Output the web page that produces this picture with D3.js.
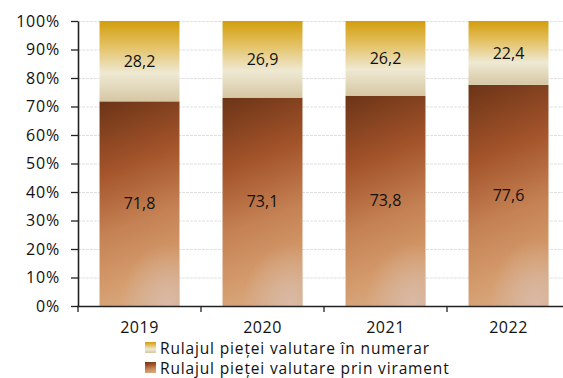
<!DOCTYPE html>
<html>
<head>
<meta charset="utf-8">
<script src="https://cdn.jsdelivr.net/npm/d3@7/dist/d3.min.js"></script>
<style>
  html, body { margin: 0; padding: 0; background: #fff; }
  svg { display: block; font-family: "Open Sans", "Noto Sans", sans-serif; }
</style>
</head>
<body>
<svg id="chart" width="563" height="378"></svg>
<script>
// Market turnover structure, percent of total
const years = ["2019", "2020", "2021", "2022"];
const viramente = [71.8, 73.1, 73.8, 77.6];
const numerar = [28.2, 26.9, 26.2, 22.4];
const yTicks = [0, 10, 20, 30, 40, 50, 60, 70, 80, 90, 100];
const seriesNames = ["Rulajul pieței valutare în numerar", "Rulajul pieței valutare prin virament"];

const svg = d3.select("#chart");
const x = d3.scaleBand().domain(years).range([78, 570]).paddingInner(0.35).paddingOuter(0.175);
const y = d3.scaleLinear().domain([0, 100]).range([306, 21]);

const defs = svg.append("defs");
// bottom series gradient: dark brown at top, warm tan below
const gV = defs.append("linearGradient").attr("id", "gradV").attr("x1", 0).attr("y1", 0).attr("x2", 0.15).attr("y2", 1);
[[0, "#6b3417"], [0.35, "#a4542a"], [0.65, "#c58254"], [0.9, "#d49b6c"], [1, "#d6a47a"]]
  .forEach(([o, c]) => gV.append("stop").attr("offset", o).attr("stop-color", c));
const rV = defs.append("radialGradient").attr("id", "glowV").attr("cx", 0.85).attr("cy", 1).attr("r", 0.6)
  .attr("gradientTransform", "scale(1,0.5) translate(0,1)");
rV.append("stop").attr("offset", 0).attr("stop-color", "#d9bcaa").attr("stop-opacity", 0.95);
rV.append("stop").attr("offset", 1).attr("stop-color", "#d9bcaa").attr("stop-opacity", 0);
// top series gradient: gold to cream
const gN = defs.append("linearGradient").attr("id", "gradN").attr("x1", 0).attr("y1", 0).attr("x2", 0).attr("y2", 1);
[[0, "#d39e0c"], [0.3, "#e3c060"], [0.65, "#efe9d3"], [1, "#d6c7a4"]]
  .forEach(([o, c]) => gN.append("stop").attr("offset", o).attr("stop-color", c));

// gridlines
svg.append("g").selectAll("line").data(yTicks.slice(1)).join("line")
  .attr("x1", 78).attr("x2", 563).attr("y1", d => y(d) + 0.5).attr("y2", d => y(d) + 0.5)
  .attr("stroke", "#e0e0e0").attr("stroke-width", 1).attr("stroke-dasharray", "3,1");

// bars
const bars = svg.append("g");
years.forEach((yr, i) => {
  const bx = x(yr), bw = x.bandwidth();
  bars.append("rect").attr("x", bx).attr("width", bw)
    .attr("y", y(viramente[i])).attr("height", y(0) - y(viramente[i])).attr("fill", "url(#gradV)");
  bars.append("rect").attr("x", bx).attr("width", bw)
    .attr("y", y(viramente[i])).attr("height", y(0) - y(viramente[i])).attr("fill", "url(#glowV)");
  bars.append("rect").attr("x", bx).attr("width", bw)
    .attr("y", y(100)).attr("height", y(viramente[i]) - y(100)).attr("fill", "url(#gradN)");
});

const fmt = v => v.toFixed(1).replace(".", ",");
const labels = svg.append("g").attr("font-size", 16).attr("fill", "#111").attr("text-anchor", "middle");
years.forEach((yr, i) => {
  const cx = x(yr) + x.bandwidth() / 2;
  labels.append("text").attr("x", cx).attr("y", y(viramente[i] / 2)).attr("dy", "0.35em").text(fmt(viramente[i]));
  labels.append("text").attr("x", cx).attr("y", y(viramente[i] + numerar[i] / 2)).attr("dy", "0.35em").text(fmt(numerar[i]));
});

// y axis
const yAxis = svg.append("g").attr("transform", "translate(78,0)")
  .call(d3.axisLeft(y).tickValues(yTicks).tickFormat(d => d + "%").tickSize(7).tickSizeOuter(0));
yAxis.select(".domain").attr("stroke", "#222").attr("stroke-width", 1.6);
yAxis.selectAll(".tick line").attr("stroke", "#222").attr("stroke-width", 1.3);
yAxis.selectAll(".tick text").attr("font-size", 16).attr("fill", "#111").attr("x", -18)
  .attr("letter-spacing", "0.8px").attr("font-family", "\"Open Sans\", sans-serif");

// x axis with ticks between categories
const xg = svg.append("g").attr("transform", "translate(0,306)");
xg.append("line").attr("x1", 77).attr("x2", 563).attr("y1", 0.5).attr("y2", 0.5).attr("stroke", "#222").attr("stroke-width", 1.6);
const bounds = years.slice(1).map(yr => x(yr) - x.step() * x.paddingInner() / 2);
xg.selectAll(".sep").data([78].concat(bounds)).join("line")
  .attr("x1", d => d).attr("x2", d => d).attr("y1", 0).attr("y2", 6).attr("stroke", "#222").attr("stroke-width", 1.3);
xg.selectAll(".cat").data(years).join("text")
  .attr("x", d => x(d) + x.bandwidth() / 2).attr("y", 27).attr("text-anchor", "middle")
  .attr("font-size", 16).attr("letter-spacing", "0.5px").attr("fill", "#111").text(d => d);

// legend
const lg = svg.append("g");
const swatch = ["url(#gradN)", "url(#gradV)"];
seriesNames.forEach((name, i) => {
  const base = 354 + i * 20;
  lg.append("rect").attr("x", 145).attr("y", base - 12).attr("width", 11).attr("height", 11).attr("fill", swatch[i]);
  lg.append("text").attr("x", 160).attr("y", base).attr("font-size", 15.5).attr("letter-spacing", "0.85px")
    .attr("fill", "#111").text(name);
});
</script>
</body>
</html>
